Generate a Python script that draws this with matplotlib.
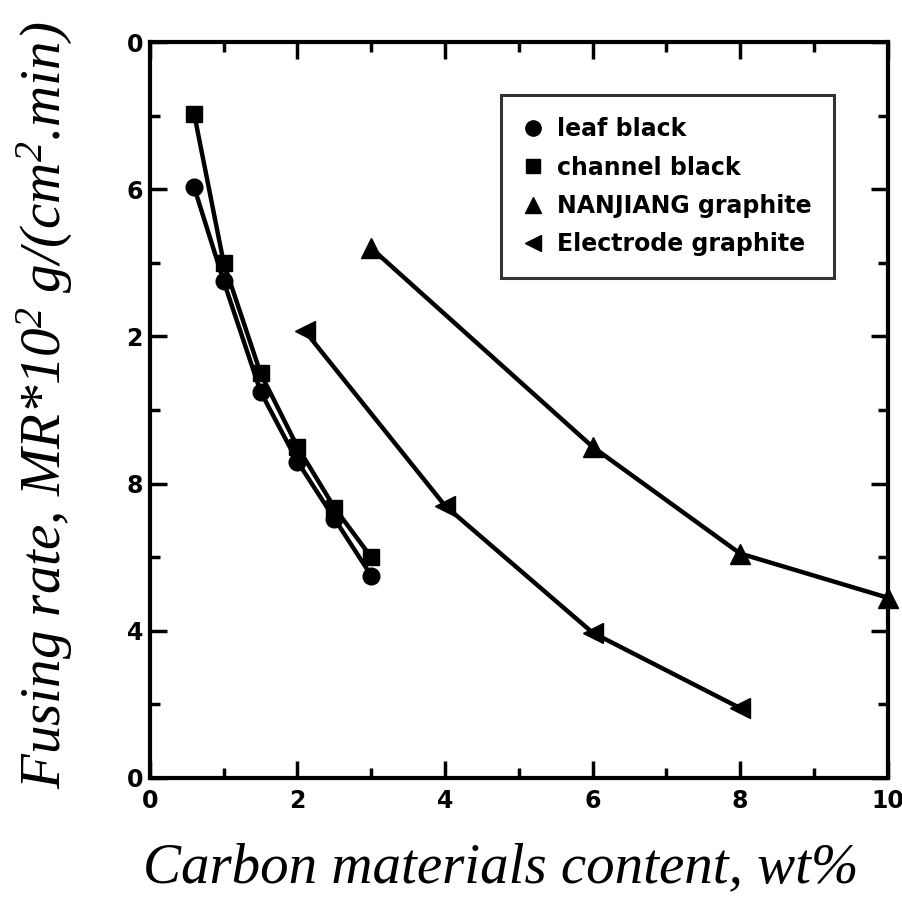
import matplotlib
matplotlib.use("Agg")
import matplotlib.pyplot as plt
from matplotlib.lines import Line2D

plt.rcParams['mathtext.fontset'] = 'custom'
plt.rcParams['mathtext.it'] = 'Liberation Serif:italic'
plt.rcParams['mathtext.rm'] = 'Liberation Serif:italic'

leaf_x = [0.6, 1.0, 1.5, 2.0, 2.5, 3.0]
leaf_y = [16.05, 13.5, 10.5, 8.6, 7.05, 5.5]
channel_x = [0.6, 1.0, 1.5, 2.0, 2.5, 3.0]
channel_y = [18.05, 14.0, 11.0, 9.0, 7.35, 6.0]
nanjiang_x = [3.0, 6.0, 8.0, 10.0]
nanjiang_y = [14.4, 9.0, 6.1, 4.9]
electrode_x = [2.1, 4.0, 6.0, 8.0]
electrode_y = [12.15, 7.4, 3.95, 1.9]

xticks = [0, 2, 4, 6, 8, 10]
yticks = [0, 4, 8, 12, 16, 20]
ytick_labels = ['0', '4', '8', '2', '6', '0']

fig = plt.figure(figsize=(9.03, 9.06), dpi=100)
ax = fig.add_axes([0.166, 0.1413, 0.817, 0.8123])

lw = 3.2
ax.plot(leaf_x, leaf_y, color='black', lw=lw, marker='o', ms=12, clip_on=False)
ax.plot(channel_x, channel_y, color='black', lw=lw, marker='s', ms=11, clip_on=False)
ax.plot(nanjiang_x, nanjiang_y, color='black', lw=lw, marker='^', ms=14, clip_on=False)
ax.plot(electrode_x, electrode_y, color='black', lw=lw, marker='<', ms=14, clip_on=False)

ax.set_xlim(0, 10)
ax.set_ylim(0, 20)
ax.set_xticks(xticks)
ax.set_xticklabels([str(v) for v in xticks])
ax.set_xticks(range(0, 11), minor=True)
ax.set_yticks(yticks)
ax.set_yticklabels(ytick_labels)
ax.set_yticks(range(0, 21, 2), minor=True)

ax.tick_params(which='both', direction='in', top=True, right=True, width=2.5)
ax.tick_params(which='major', length=12, pad=8)
ax.tick_params(which='minor', length=7)
ax.tick_params(axis='y', which='major', pad=5)
for lbl in ax.get_xticklabels() + ax.get_yticklabels():
    lbl.set_fontweight('bold')
    lbl.set_fontsize(17)
    lbl.set_family('DejaVu Sans')
for s in ax.spines.values():
    s.set_linewidth(3)

handles = [
    Line2D([], [], color='black', ls='none', marker='o', ms=11),
    Line2D([], [], color='black', ls='none', marker='s', ms=10),
    Line2D([], [], color='black', ls='none', marker='^', ms=12),
    Line2D([], [], color='black', ls='none', marker='<', ms=12),
]
names = ['leaf black', 'channel black', 'NANJIANG graphite', 'Electrode graphite']
leg = ax.legend(handles, names, loc='upper left', bbox_to_anchor=(0.46, 0.944),
                frameon=True, fancybox=False, edgecolor='black',
                handlelength=0.8, handletextpad=0.6, borderpad=0.95,
                labelspacing=0.6, prop={'family': 'DejaVu Sans', 'weight': 'bold', 'size': 17})
leg.get_frame().set_linewidth(2.2)

fig.text(0.554, 0.042, 'Carbon materials content, wt%', ha='center', va='center',
         fontsize=41, family='Liberation Serif', style='italic')
fig.text(0.05, 0.553, r'Fusing rate, MR*10$^2$ g/(cm$^2$.min)', ha='center', va='center',
         rotation=90, fontsize=41, family='Liberation Serif', style='italic')

fig.savefig('out.png', dpi=100)
